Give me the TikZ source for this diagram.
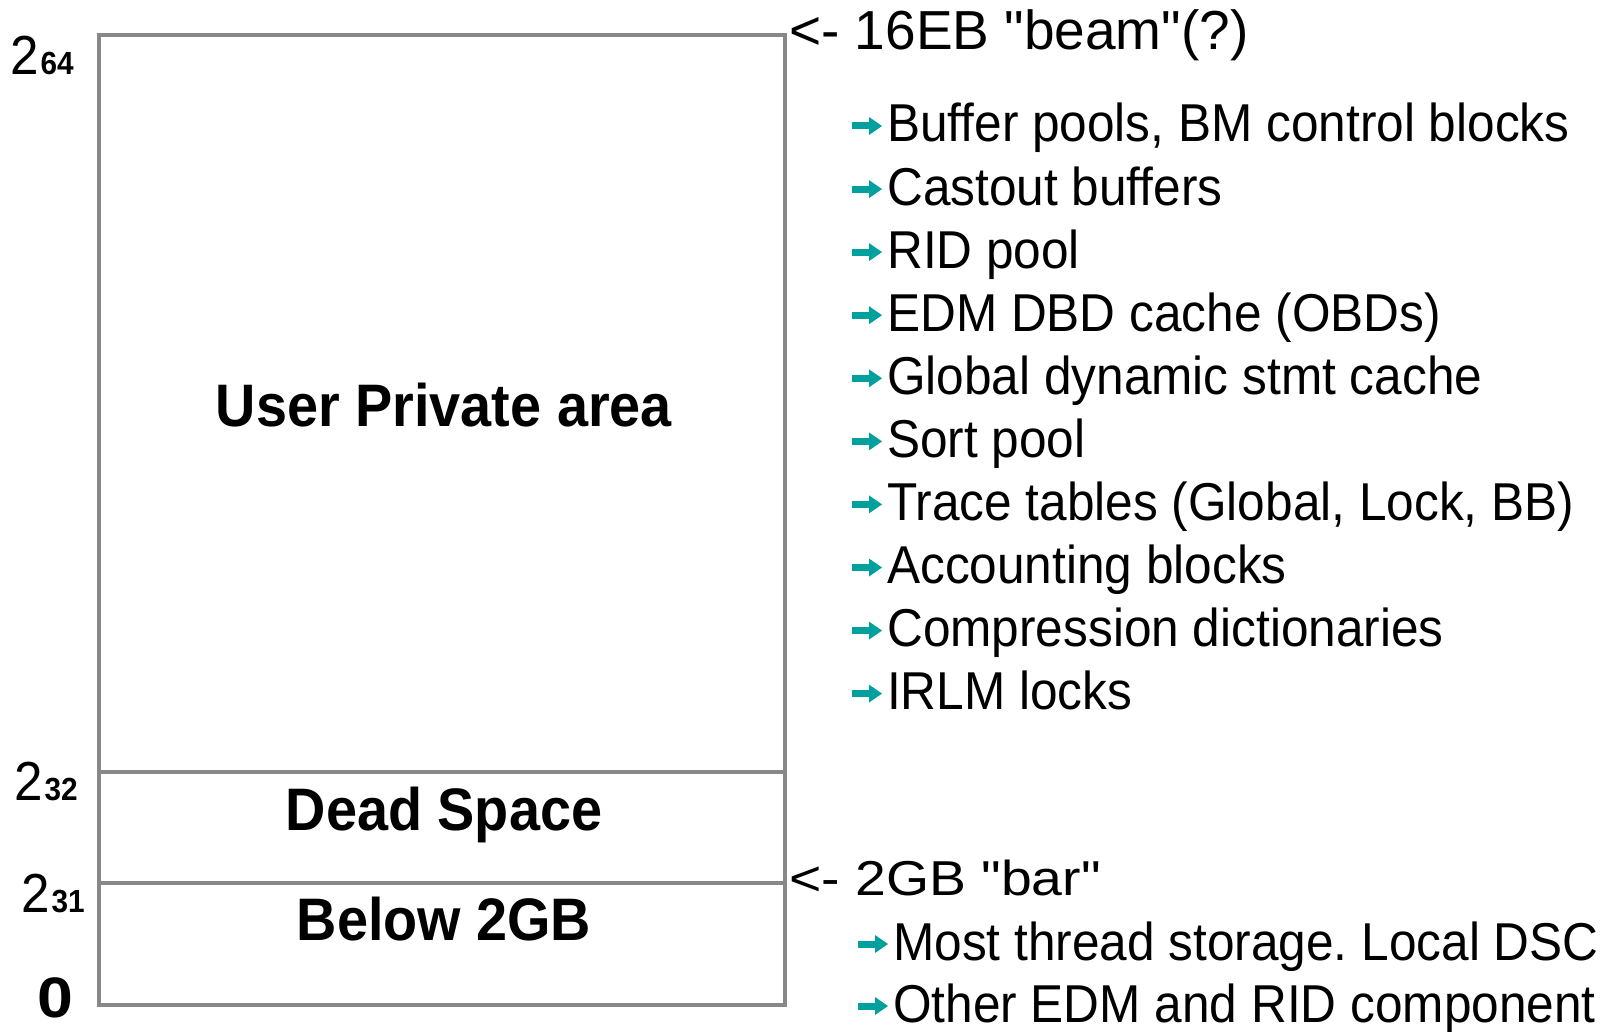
\documentclass[tikz,border=0pt]{standalone}
\usepackage{fontspec}
\setmainfont{Liberation Sans}[FakeStretch=0.93]
\newfontfamily\plainfont{Liberation Sans}
\newfontfamily\widefont{Liberation Sans}[FakeStretch=1.13]
\definecolor{memgray}{RGB}{136,136,136}
\definecolor{bulletteal}{RGB}{0,160,158}
\frenchspacing
\tikzset{
  memline/.style={draw=memgray, line width=4pt},
  areatext/.style={anchor=base, inner sep=0pt, font=\fontsize{60}{62}\selectfont\bfseries},
  powtext/.style={anchor=base west, inner sep=0pt, font=\fontsize{55}{56}\selectfont},
  itemtext/.style={anchor=base west, inner sep=0pt, font=\fontsize{53.3}{56}\selectfont},
  tealbullet/.pic={
    \fill[bulletteal] (-35pt,12.5pt) rectangle (-16pt,19.5pt);
    \fill[bulletteal] (-18pt,7pt) -- (-5pt,16pt) -- (-18pt,25pt) -- cycle;
  }
}
\begin{document}
\begin{tikzpicture}
\useasboundingbox (0pt,0pt) rectangle (1608pt,-1032pt);
\coordinate (topleft) at (99pt,-35pt);
\coordinate (botright) at (785pt,-1005pt);
\coordinate (g32w) at (99pt,-772pt);
\coordinate (g32e) at (785pt,-772pt);
\coordinate (g31w) at (99pt,-883pt);
\coordinate (g31e) at (785pt,-883pt);
\draw[memline] (topleft) rectangle (botright);
\draw[memline] (g32w) -- (g32e);
\draw[memline] (g31w) -- (g31e);
\node[areatext] (userarea) at (444pt,-426.7pt) {User Private area};
\node[areatext] (deadspace) at (444pt,-830pt) {Dead Space};
\node[areatext] (below) at (444pt,-940pt) {Below 2GB};
\node[powtext] (p64) at (10.5pt,-75pt) {2\kern1.5pt\fontsize{32}{32}\selectfont\bfseries 64};
\node[powtext] (p32) at (14.5pt,-800.7pt) {2\kern1.5pt\fontsize{32}{32}\selectfont\bfseries 32};
\node[powtext] (p31) at (21.5pt,-912pt) {2\kern1.5pt\fontsize{32}{32}\selectfont\bfseries 31};
\node[powtext, font=\widefont\fontsize{57}{58}\selectfont\bfseries] (p0) at (37pt,-1017pt) {0};
\node[anchor=base west, inner sep=0pt, font=\plainfont\fontsize{55}{56}\selectfont] (beam) at (789pt,-50pt) {<- 16EB "beam"(?)};
\node[itemtext] (b0) at (887pt,-142pt) {Buffer pools, BM control blocks};
\node[itemtext] (b1) at (887pt,-205.1pt) {Castout buffers};
\node[itemtext] (b2) at (887pt,-268.1pt) {RID pool};
\node[itemtext] (b3) at (887pt,-331.2pt) {EDM DBD cache (OBDs)};
\node[itemtext] (b4) at (887pt,-394.3pt) {Global dynamic stmt cache};
\node[itemtext] (b5) at (887pt,-457.4pt) {Sort pool};
\node[itemtext] (b6) at (887pt,-520.4pt) {Trace tables (Global, Lock, BB)};
\node[itemtext] (b7) at (887pt,-583.5pt) {Accounting blocks};
\node[itemtext] (b8) at (887pt,-646.6pt) {Compression dictionaries};
\node[itemtext] (b9) at (887pt,-709.6pt) {IRLM locks};
\pic at (b0.base west) {tealbullet};
\pic at (b1.base west) {tealbullet};
\pic at (b2.base west) {tealbullet};
\pic at (b3.base west) {tealbullet};
\pic at (b4.base west) {tealbullet};
\pic at (b5.base west) {tealbullet};
\pic at (b6.base west) {tealbullet};
\pic at (b7.base west) {tealbullet};
\pic at (b8.base west) {tealbullet};
\pic at (b9.base west) {tealbullet};
\node[anchor=base west, inner sep=0pt, font=\widefont\fontsize{49}{50}\selectfont] (bar) at (789pt,-895pt) {<- 2GB "bar"};
\node[itemtext] (t0) at (893pt,-960pt) {Most thread storage. Local DSC};
\node[itemtext] (t1) at (893pt,-1022pt) {Other EDM and RID component};
\pic at (t0.base west) {tealbullet};
\pic at (t1.base west) {tealbullet};
\end{tikzpicture}
\end{document}
